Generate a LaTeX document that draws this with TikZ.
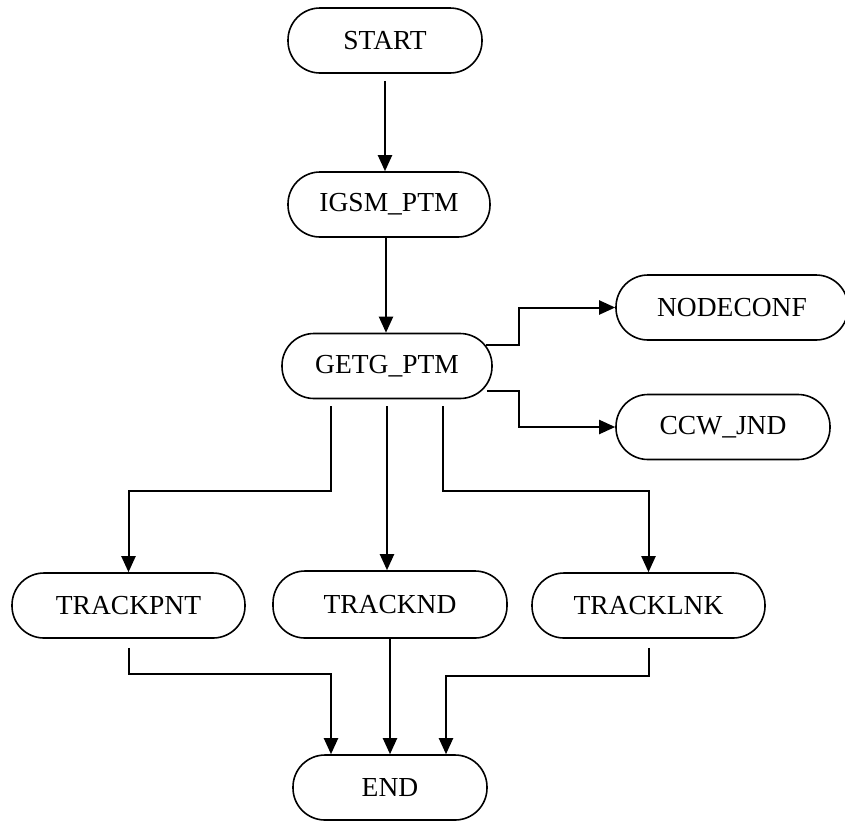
\documentclass[tikz,border=0pt]{standalone}
\usepackage{fontspec}
\setmainfont{Liberation Serif}
\usetikzlibrary{arrows.meta,calc}
\begin{document}
\begin{tikzpicture}[x=1pt,y=-1pt,
  term/.style={draw, line width=1.6pt, rounded corners=32pt, minimum height=65pt,
    inner sep=0pt, font=\fontsize{27.5}{30}\selectfont},
  arr/.style={line width=2pt, -{Triangle[length=16pt,width=14pt]}}]
\useasboundingbox (0,0) rectangle (845,820);
\node[term, minimum width=194pt] (start) at (385,40.5) {START};
\node[term, minimum width=202pt] (igsm) at (389,204.5) {IGSM\_PTM};
\node[term, minimum width=210pt] (getg) at (387,366) {GETG\_PTM};
\node[term, minimum width=232pt] (nodeconf) at (732,307.5) {NODECONF};
\node[term, minimum width=214pt] (ccw) at (723,427) {CCW\_JND};
\node[term, minimum width=233pt] (tp) at (128.5,605.5) {TRACKPNT};
\node[term, minimum width=234pt, minimum height=67pt] (tn) at (390,604.5) {TRACKND};
\node[term, minimum width=233pt] (tl) at (648.5,605.5) {TRACKLNK};
\node[term, minimum width=194pt] (end) at (390,787.5) {END};
% top chain
\draw[arr] ([yshift=-7pt]start.south) -- (start.south |- igsm.north);
\draw[arr] ([xshift=-3pt]igsm.south) -- ([xshift=-3pt]igsm.south |- getg.north);
% right branches
\draw[arr] ([shift={(-7pt,-12pt)}]getg.north east) -- ++(33pt,0pt) |- (nodeconf.west);
\draw[arr] ([shift={(-6pt,8pt)}]getg.south east) -- ++(32pt,0pt) |- (ccw.west);
% down branches
\draw[arr] ([xshift=-56pt,yshift=-7pt]getg.south) -- ++(0pt,-85pt) -| (tp.north);
\draw[arr] ([yshift=-7pt]getg.south) -- (getg.south |- tn.north);
\draw[arr] ([xshift=56pt,yshift=-7pt]getg.south) -- ++(0pt,-85pt) -| (tl.north);
% to end
\draw[arr] ([yshift=-9pt]tp.south) -- ++(0pt,-26pt) -| ([xshift=-59pt]end.north);
\draw[arr] (tn.south) -- (tn.south |- end.north);
\draw[arr] ([yshift=-9pt]tl.south) -- ++(0pt,-28pt) -| ([xshift=56pt]end.north);
\end{tikzpicture}
\end{document}
